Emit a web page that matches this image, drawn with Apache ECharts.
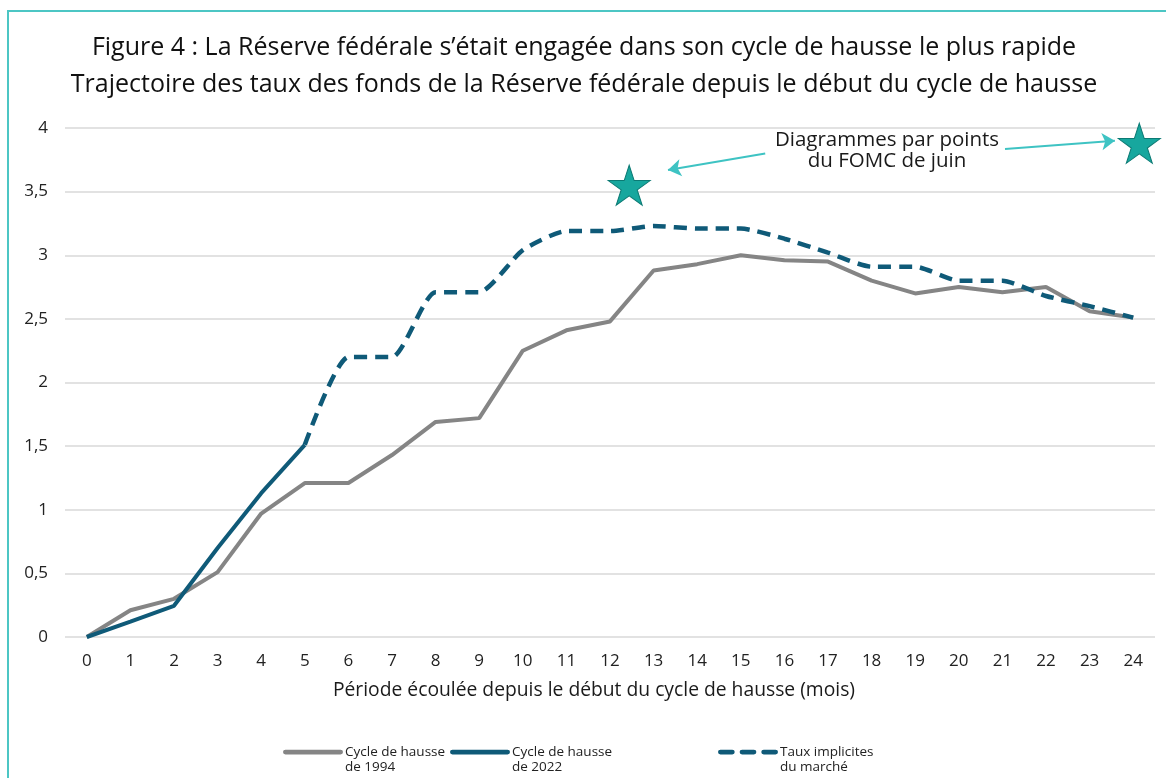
<!DOCTYPE html>
<html>
<head>
<meta charset="utf-8">
<script src="https://cdn.jsdelivr.net/npm/echarts@6/dist/echarts.min.js"></script>
<style>
  html, body { margin: 0; padding: 0; background: #fff; }
  #chart { width: 1166px; height: 778px; }
</style>
</head>
<body>
<div id="chart"></div>
<script>
// mois depuis le début du cycle
const months = ["0","1","2","3","4","5","6","7","8","9","10","11","12","13","14","15","16","17","18","19","20","21","22","23","24"];
const cycle1994 = [0, 0.21, 0.30, 0.51, 0.97, 1.21, 1.21, 1.43, 1.69, 1.72, 2.25, 2.41, 2.48, 2.88, 2.93, 3.0, 2.96, 2.95, 2.80, 2.70, 2.75, 2.71, 2.75, 2.56, 2.51];
const cycle2022 = [0, 0.12, 0.245, 0.70, 1.13, 1.51, null, null, null, null, null, null, null, null, null, null, null, null, null, null, null, null, null, null, null];
const tauxMarche = [null, null, null, null, null, 1.51, 2.20, 2.20, 2.71, 2.71, 3.04, 3.19, 3.19, 3.23, 3.21, 3.21, 3.13, 3.02, 2.91, 2.91, 2.80, 2.80, 2.68, 2.60, 2.51];
// dot plots FOMC (position en mois, niveau)
const dotX = [12.44, 24.14];
const dotY = [3.55, 3.88];
// flèches de l'annotation [début, fin]
const arrows = [
  [[15.56, 3.80], [13.33, 3.67]],
  [[21.06, 3.835], [23.58, 3.90]]
];

const starPath = "path://M50 0 L61.23 34.55 L97.55 34.55 L68.17 55.9 L79.39 90.45 L50 69.1 L20.61 90.45 L31.83 55.9 L2.45 34.55 L38.77 34.55 Z";
// icônes de légende : trait en haut de la case (un point minuscule en bas fixe la hauteur)
const solidIcon = "path://M2 0H58A2.5 2.5 0 0 1 58 5H2A2.5 2.5 0 0 1 2 0Z M30 19.99L30.01 20L30 20Z";
const dashIcon = "path://M2 0H14A2.5 2.5 0 0 1 14 5H2A2.5 2.5 0 0 1 2 0Z M24 0H36A2.5 2.5 0 0 1 36 5H24A2.5 2.5 0 0 1 24 0Z M46 0H58A2.5 2.5 0 0 1 58 5H46A2.5 2.5 0 0 1 46 0Z M30 19.99L30.01 20L30 20Z";
const font = "Open Sans";
const gray = "#858585";
const navy = "#0f5a78";

const chart = echarts.init(document.getElementById("chart"));

const legendBase = {
  top: 745,
  padding: 0,
  itemWidth: 60,
  itemHeight: 20,
  itemGap: 0,
  textStyle: { fontFamily: font, fontSize: 13.5, color: "#222", lineHeight: 14.5, padding: [0, 0, 0, -3] },
  selectedMode: false,
};

chart.setOption({
  animation: false,
  backgroundColor: "#fff",
  graphic: [
    {
      type: "rect",
      shape: { x: 8, y: 11, width: 1300, height: 900 },
      style: { fill: null, stroke: "#4cc6c4", lineWidth: 2 },
      silent: true,
      z: -1,
    },
    {
      type: "text",
      x: 584,
      y: 29,
      style: {
        text: "Figure 4 : La Réserve fédérale s’était engagée dans son cycle de hausse le plus rapide\nTrajectoire des taux des fonds de la Réserve fédérale depuis le début du cycle de hausse",
        fontFamily: font,
        fontSize: 25,
        lineHeight: 37,
        fill: "#111",
        align: "center",
      },
    },
    {
      type: "text",
      x: 887,
      y: 130,
      style: {
        text: "Diagrammes par points\ndu FOMC de juin",
        fontFamily: font,
        fontSize: 20.5,
        lineHeight: 21,
        fill: "#1a1a1a",
        align: "center",
      },
    },
  ],
  legend: [
    Object.assign({}, legendBase, { left: 283, icon: solidIcon, data: ["Cycle de hausse\nde 1994"] }),
    Object.assign({}, legendBase, { left: 450, icon: solidIcon, data: ["Cycle de hausse\nde 2022"] }),
    Object.assign({}, legendBase, { left: 718, icon: dashIcon, data: ["Taux implicites\ndu marché"] }),
  ],
  grid: { left: 65, right: 11, top: 128, bottom: 141 },
  xAxis: [
    {
      type: "category",
      data: months,
      boundaryGap: true,
      axisLine: { show: false },
      axisTick: { show: false },
      axisLabel: { fontFamily: font, fontSize: 17, color: "#222", margin: 16 },
      name: "Période écoulée depuis le début du cycle de hausse (mois)",
      nameLocation: "middle",
      nameGap: 44,
      nameTextStyle: { fontFamily: font, fontSize: 19.3, color: "#1a1a1a", verticalAlign: "top", padding: [0, 32, 0, 0] },
    },
    {
      type: "value",
      min: -0.5,
      max: 24.5,
      show: false,
    },
  ],
  yAxis: {
    type: "value",
    min: 0,
    max: 4,
    interval: 0.5,
    axisLine: { show: false },
    axisTick: { show: false },
    axisLabel: {
      fontFamily: font,
      fontSize: 17,
      color: "#222",
      margin: 17,
      formatter: (v) => String(v).replace(".", ","),
    },
    splitLine: { lineStyle: { color: "#d9d9d9", width: 1.5 } },
  },
  series: [
    {
      name: "Cycle de hausse\nde 1994",
      type: "line",
      data: cycle1994,
      symbol: "none",
      lineStyle: { color: gray, width: 4 },
      itemStyle: { color: gray },
      z: 2,
    },
    {
      name: "Taux implicites\ndu marché",
      type: "line",
      data: tauxMarche,
      symbol: "none",
      smooth: 0.2,
      lineStyle: { color: navy, width: 4.5, type: [13, 8] },
      itemStyle: { color: navy },
      z: 3,
    },
    {
      name: "Cycle de hausse\nde 2022",
      type: "line",
      data: cycle2022,
      symbol: "none",
      lineStyle: { color: navy, width: 4 },
      itemStyle: { color: navy },
      z: 4,
    },
    {
      name: "FOMC",
      type: "scatter",
      xAxisIndex: 1,
      data: dotX.map((x, i) => [x, dotY[i]]),
      symbol: starPath,
      symbolSize: [42, 40],
      itemStyle: { color: "#17a79e", borderColor: "#0c7a74", borderWidth: 1, opacity: 1 },
      z: 5,
      markLine: {
        silent: true,
        symbol: ["none", "arrow"],
        symbolSize: 13,
        label: { show: false },
        lineStyle: { color: "#3ec3c3", width: 2, type: "solid", opacity: 1 },
        data: arrows.map((a) => [{ coord: a[0] }, { coord: a[1] }]),
      },
    },
  ],
});
</script>
</body>
</html>
